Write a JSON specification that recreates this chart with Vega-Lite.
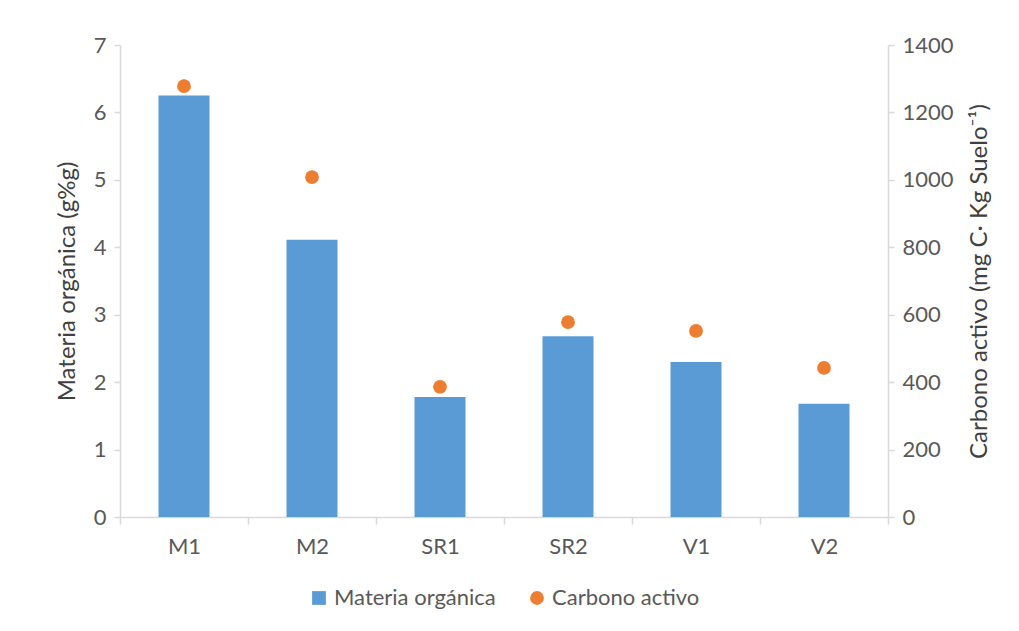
{
  "$schema": "https://vega.github.io/schema/vega-lite/v6.json",
  "autosize": "none",
  "width": 768,
  "height": 472,
  "padding": {"left": 120, "top": 45, "right": 131, "bottom": 114},
  "background": "white",
  "config": {
    "view": {"stroke": null},
    "font": "Lato",
    "axis": {
      "grid": false,
      "domainColor": "#D9D9D9",
      "domainWidth": 1.5,
      "tickColor": "#D9D9D9",
      "tickWidth": 1.5,
      "tickSize": 6,
      "labelColor": "#595959",
      "labelFontSize": 22,
      "labelFont": "Lato",
      "labelOverlap": false,
      "labelFlush": false,
      "titleColor": "#404040",
      "titleFontSize": 24,
      "titleFont": "Lato",
      "titleFontWeight": "normal"
    },
    "legend": {
      "labelColor": "#595959",
      "labelFontSize": 22,
      "labelFont": "Lato",
      "labelLimit": 400,
      "layout": {"bottom": {"anchor": "middle"}}
    }
  },
  "data": {
    "values": [
      {"sitio": "M1", "mo": 6.25, "ca": 1278},
      {"sitio": "M2", "mo": 4.11, "ca": 1008},
      {"sitio": "SR1", "mo": 1.78, "ca": 386},
      {"sitio": "SR2", "mo": 2.68, "ca": 578},
      {"sitio": "V1", "mo": 2.30, "ca": 552},
      {"sitio": "V2", "mo": 1.68, "ca": 442}
    ]
  },
  "encoding": {
    "x": {
      "field": "sitio",
      "type": "nominal",
      "sort": null,
      "scale": {"paddingInner": 0, "paddingOuter": 0},
      "axis": {"title": null, "labelAngle": 0, "tickBand": "extent", "labelPadding": 12, "tickSize": 7}
    }
  },
  "layer": [
    {
      "transform": [{"calculate": "'Materia orgánica'", "as": "serie"}],
      "mark": {"type": "bar", "width": 51},
      "encoding": {
        "y": {
          "field": "mo",
          "type": "quantitative",
          "scale": {"domain": [0, 7]},
          "axis": {"title": "Materia orgánica (g%g)", "values": [0,1,2,3,4,5,6,7], "format": "d", "labelPadding": 8, "titlePadding": 14}
        },
        "color": {
          "field": "serie",
          "type": "nominal",
          "scale": {"domain": ["Materia orgánica", "Carbono activo"], "range": ["#5B9BD5", "#ED7D31"]},
          "legend": {"title": null, "orient": "bottom", "direction": "horizontal", "offset": 30, "symbolSize": 190, "columnPadding": 30, "labelOffset": 4, "symbolOpacity": 1}
        },
        "shape": {
          "field": "serie",
          "type": "nominal",
          "scale": {"domain": ["Materia orgánica", "Carbono activo"], "range": ["square", "circle"]},
          "legend": {"title": null, "orient": "bottom", "direction": "horizontal", "offset": 30, "symbolSize": 190, "columnPadding": 30, "labelOffset": 4, "symbolOpacity": 1}
        }
      }
    },
    {
      "transform": [{"calculate": "'Carbono activo'", "as": "serie"}],
      "mark": {"type": "point", "filled": true, "size": 190, "opacity": 1},
      "encoding": {
        "y": {
          "field": "ca",
          "type": "quantitative",
          "scale": {"domain": [0, 1400]},
          "axis": {"orient": "right", "title": "Carbono activo (mg C· Kg Suelo⁻¹)", "values": [0,200,400,600,800,1000,1200,1400], "format": "d", "labelPadding": 8, "titlePadding": 14, "titleAngle": 270, "titleBaseline": "top"}
        },
        "color": {
          "field": "serie",
          "type": "nominal",
          "scale": {"domain": ["Materia orgánica", "Carbono activo"], "range": ["#5B9BD5", "#ED7D31"]},
          "legend": {"title": null, "orient": "bottom", "direction": "horizontal", "offset": 30, "symbolSize": 190, "columnPadding": 30, "labelOffset": 4, "symbolOpacity": 1}
        },
        "shape": {
          "field": "serie",
          "type": "nominal",
          "scale": {"domain": ["Materia orgánica", "Carbono activo"], "range": ["square", "circle"]},
          "legend": {"title": null, "orient": "bottom", "direction": "horizontal", "offset": 30, "symbolSize": 190, "columnPadding": 30, "labelOffset": 4, "symbolOpacity": 1}
        }
      }
    }
  ],
  "resolve": {"scale": {"y": "independent", "color": "shared", "shape": "shared"}, "legend": {"color": "shared", "shape": "shared"}}
}
